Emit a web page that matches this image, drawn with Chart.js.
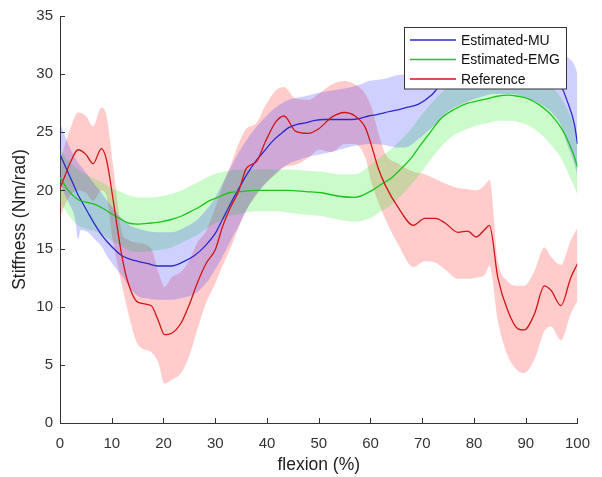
<!DOCTYPE html>
<html><head><meta charset="utf-8">
<script src="https://cdn.jsdelivr.net/npm/chart.js@4.4.0/dist/chart.umd.min.js"></script>
<style>html,body{margin:0;padding:0;background:#fff}canvas{display:block}</style>
</head><body>
<canvas id="c" width="602" height="477"></canvas>
<script>
// ---- data ----
const xTicks = [0,10,20,30,40,50,60,70,80,90,100];
const yTicks = [0,5,10,15,20,25,30,35];
const xTitle = 'flexion (%)';
const yTitle = 'Stiffness (Nm/rad)';
const seriesNames = ['Estimated-MU','Estimated-EMG','Reference'];

// Reference (red)
const refX     = [0,1,2,3.5,5,6.4,8,9,10.3,11.9,13,15,17.6,19,20.2,21.5,23.4,25,26.5,28.2,30,31.5,33,34.5,36,38,39.7,41.7,43.3,45.5,48,50,52.5,55,57,59,60.3,61.5,62.8,65.4,68.3,70.5,72.5,74.4,76.9,78.8,80.4,82,83,84.6,86.5,88.5,89.7,91.7,93.6,94.9,96.8,98.7,100];
const refMean  = [20.2,21.3,22.4,23.5,23.1,22.3,23.6,22.6,19.1,14.5,12.3,10.4,10.1,8.8,7.6,7.7,8.6,10.2,12.0,13.7,14.9,17.0,18.6,19.9,21.9,22.5,24.2,25.9,26.4,25.1,24.9,25.3,26.3,26.7,26.4,25.4,23.7,21.9,20.5,18.5,17.0,17.6,17.6,17.2,16.4,16.5,16.0,16.6,17.0,12.5,9.7,8.1,8.0,9.4,11.8,11.4,10.1,12.5,13.7];
const refUpper = [22.5,24.0,25.3,26.7,26.4,25.5,27.1,26.4,22.0,16.5,15.8,15.5,15.0,13.0,11.7,12.5,13.0,14.0,15.5,16.5,18.5,20.5,22.2,24.0,25.3,25.8,27.3,28.6,28.9,27.9,27.8,28.3,29.1,29.4,29.1,28.3,27.0,25.0,23.2,22.3,21.6,21.4,21.0,20.6,20.2,20.1,20.0,20.4,20.9,14.0,12.2,11.8,11.8,13.1,15.1,14.3,13.6,15.7,16.8];
const refLower = [17.7,18.8,19.6,20.0,19.8,19.1,20.0,19.5,15.5,12.0,9.8,6.8,6.1,5.2,3.4,3.7,4.3,5.8,8.0,10.3,12.0,13.6,15.1,16.8,18.3,19.6,20.6,21.4,22.0,22.2,22.8,23.5,23.3,24.0,24.0,22.8,20.5,19.0,17.6,15.3,13.4,13.9,13.8,13.2,12.4,12.4,12.5,12.7,13.5,8.8,5.8,4.5,4.3,5.5,7.9,8.3,7.1,9.4,10.5];

// Estimated-MU (blue)
const muX     = [0,1.6,2.9,3.5,4,5.4,6.7,8,9.3,10.6,11.9,13.5,15.1,17,18.9,21.5,24,26,28.2,30,31.4,33,34.6,36,37.8,39.5,41,42.5,44.2,46,47.4,49,51.3,54,56.4,58,59.6,61,62.8,65,66.7,69.2,71.8,73,75,78,81,84,87,90,93,95,96.8,98,99.4,100];
const muMean  = [23.1,21.5,20.2,19.6,19.2,18.1,17.1,16.2,15.5,14.9,14.4,14.1,13.9,13.7,13.5,13.5,13.9,14.4,15.3,16.3,17.5,18.9,20.2,21.3,22.5,23.4,24.2,24.8,25.4,25.7,25.8,26.0,26.1,26.1,26.1,26.2,26.4,26.5,26.7,26.9,27.1,27.4,28.2,28.8,29.5,30.2,30.7,31.0,31.0,30.8,30.4,29.9,29.0,27.7,25.7,24.0];
const muUpper = [25.8,24.0,22.8,22.4,22.1,21.3,20.5,19.8,19.0,18.3,17.6,17.0,16.7,16.5,16.4,16.4,16.8,17.3,18.3,19.4,20.6,22.0,23.3,24.3,25.4,26.2,26.9,27.4,27.8,28.0,28.1,28.3,28.5,28.7,28.9,29.1,29.4,29.5,29.6,29.9,30.0,30.4,31.0,31.5,32.2,32.8,33.2,33.5,33.5,33.3,32.8,32.5,32.0,31.5,30.8,30.0];
const muLower = [20.5,19.0,17.6,15.8,16.6,16.4,15.8,15.2,14.2,13.4,12.7,11.6,10.9,10.7,10.6,10.6,10.8,11.1,12.0,13.2,14.3,15.7,17.0,18.3,19.6,20.5,21.2,21.8,22.3,22.6,22.8,23.0,23.2,23.5,23.8,23.9,24.0,24.0,23.9,23.7,23.7,24.4,25.4,25.9,26.8,27.5,28.0,28.3,28.3,28.0,27.4,26.7,25.6,24.0,22.3,21.2];

// Estimated-EMG (green)
const emgX     = [0,1.6,3.5,5,6.7,8.5,9.9,11.5,13.1,15,17.6,19.5,21.5,23.5,25.3,27,28.8,30.5,32.7,35,37.8,41,44.2,47.5,50.6,53.8,57,60.3,62,64.1,66,67.9,69.5,71.2,73.7,76.3,78.8,80.7,82.7,84.5,86.5,88.5,90.4,92.5,94.2,95.5,96.8,97.8,98.7,99.4,100];
const emgMean  = [21.1,20.0,19.2,19.0,18.8,18.4,18.0,17.6,17.2,17.1,17.2,17.3,17.5,17.8,18.2,18.6,19.1,19.4,19.8,19.9,20.0,20.0,20.0,19.9,19.8,19.5,19.4,20.0,20.5,21.1,21.9,22.8,23.8,24.8,26.2,27.0,27.5,27.7,27.9,28.1,28.2,28.1,27.9,27.4,26.8,26.2,25.4,24.6,23.7,22.9,22.0];
const emgUpper = [23.5,22.6,21.8,21.4,21.0,20.6,20.2,19.9,19.6,19.4,19.4,19.5,19.7,20.0,20.4,20.8,21.2,21.5,21.7,21.8,21.8,21.8,21.8,21.7,21.6,21.4,21.4,22.3,22.9,23.6,24.4,25.3,26.3,27.2,28.4,29.3,29.7,29.9,30.1,30.3,30.4,30.4,30.2,29.8,29.3,28.7,28.0,27.2,26.3,25.4,24.5];
const emgLower = [19.0,17.9,17.0,16.7,16.5,16.1,15.7,15.3,14.9,14.7,14.8,14.9,15.1,15.5,15.9,16.3,16.9,17.3,17.8,18.0,18.2,18.2,18.1,17.9,17.8,17.5,17.3,17.7,18.2,18.8,19.6,20.5,21.4,22.4,23.8,24.8,25.3,25.6,25.8,26.0,26.0,25.9,25.6,25.0,24.3,23.6,22.8,21.9,21.0,20.3,19.6];

// ---- styles ----
const FONT = '"Liberation Sans", Arial, Helvetica, sans-serif';
const colors = {
  mu:  {line: '#2a2ad0', fill: 'rgba(40,40,255,0.22)'},
  emg: {line: '#1cc41c', fill: 'rgba(20,230,20,0.22)'},
  ref: {line: '#d41414', fill: 'rgba(255,20,20,0.22)'}
};

function pts(xs, ys) { return xs.map((x, i) => ({x: x, y: ys[i]})); }
function bandSets(xs, up, lo, fillColor) {
  return [
    {data: pts(xs, up), fill: '+1', backgroundColor: fillColor, borderWidth: 0, pointRadius: 0, order: 10},
    {data: pts(xs, lo), fill: false, borderWidth: 0, pointRadius: 0, order: 10}
  ];
}
function lineSet(xs, ys, color, label, order) {
  return {label: label, data: pts(xs, ys), borderColor: color, borderWidth: 1.3, fill: false, pointRadius: 0, order: order};
}

const datasets = [].concat(
  bandSets(muX, muUpper, muLower, colors.mu.fill),
  bandSets(emgX, emgUpper, emgLower, colors.emg.fill),
  bandSets(refX, refUpper, refLower, colors.ref.fill),
  [lineSet(muX, muMean, colors.mu.line, seriesNames[0], 3),
   lineSet(emgX, emgMean, colors.emg.line, seriesNames[1], 2),
   lineSet(refX, refMean, colors.ref.line, seriesNames[2], 1)]
);

const tickMarks = {
  id: 'tickMarks',
  afterDatasetsDraw(chart) {
    const ctx = chart.ctx, xs = chart.scales.x, ys = chart.scales.y;
    const a = chart.chartArea;
    ctx.save();
    ctx.strokeStyle = '#333';
    ctx.lineWidth = 1;
    ctx.beginPath();
    xTicks.forEach(v => {
      const px = Math.round(xs.getPixelForValue(v)) + 0.5;
      ctx.moveTo(px, a.bottom); ctx.lineTo(px, a.bottom - 5);
    });
    yTicks.forEach(v => {
      const py = Math.round(ys.getPixelForValue(v)) + 0.5;
      ctx.moveTo(a.left, py); ctx.lineTo(a.left + 5, py);
    });
    ctx.stroke();
    ctx.restore();
  }
};

const boxLegend = {
  id: 'boxLegend',
  afterDraw(chart) {
    const ctx = chart.ctx;
    const bx = 404.5, by = 27.5, bw = 162, bh = 61.5;
    ctx.save();
    ctx.fillStyle = '#fff';
    ctx.fillRect(bx, by, bw, bh);
    ctx.strokeStyle = '#333';
    ctx.lineWidth = 1;
    ctx.strokeRect(bx, by, bw, bh);
    const rows = [40, 59.5, 79];
    const cols = [colors.mu.line, colors.emg.line, colors.ref.line];
    ctx.font = '14px ' + FONT;
    ctx.textBaseline = 'middle';
    ctx.textAlign = 'left';
    seriesNames.forEach((name, i) => {
      ctx.strokeStyle = cols[i];
      ctx.lineWidth = 1.3;
      ctx.beginPath();
      ctx.moveTo(410, rows[i]); ctx.lineTo(456, rows[i]);
      ctx.stroke();
      ctx.fillStyle = '#111';
      ctx.fillText(name, 461, rows[i] + 1);
    });
    ctx.restore();
  }
};

Chart.defaults.font.family = FONT;

new Chart(document.getElementById('c'), {
  type: 'line',
  data: {datasets: datasets},
  plugins: [tickMarks, boxLegend],
  options: {
    responsive: false,
    animation: false,
    devicePixelRatio: 1,
    layout: {padding: {top: 14, right: 22, bottom: 0, left: 0}},
    elements: {line: {cubicInterpolationMode: 'monotone'}, point: {radius: 0}},
    plugins: {
      legend: {display: false},
      tooltip: {enabled: false},
      filler: {drawTime: 'beforeDatasetsDraw', propagate: false}
    },
    scales: {
      x: {
        type: 'linear', min: 0, max: 100,
        afterBuildTicks: s => { s.ticks = xTicks.map(v => ({value: v})); },
        afterFit: s => { s.height = 54; },
        grid: {display: true, drawOnChartArea: false, drawTicks: false},
        border: {display: true, color: '#333', width: 1},
        ticks: {padding: 12, color: '#333', font: {size: 15}, maxRotation: 0, autoSkip: false},
        title: {display: true, text: xTitle, color: '#222', font: {size: 17.5}, padding: {top: 0, bottom: 1}}
      },
      y: {
        type: 'linear', min: 0, max: 35,
        afterBuildTicks: s => { s.ticks = yTicks.map(v => ({value: v})); },
        afterFit: s => { s.width = 60; },
        grid: {display: true, drawOnChartArea: false, drawTicks: false},
        border: {display: true, color: '#333', width: 1},
        ticks: {padding: 7, color: '#333', font: {size: 15}, autoSkip: false},
        title: {display: true, text: yTitle, color: '#222', font: {size: 17.5}, padding: {top: 10, bottom: 0}}
      }
    }
  }
});
</script>
</body></html>
